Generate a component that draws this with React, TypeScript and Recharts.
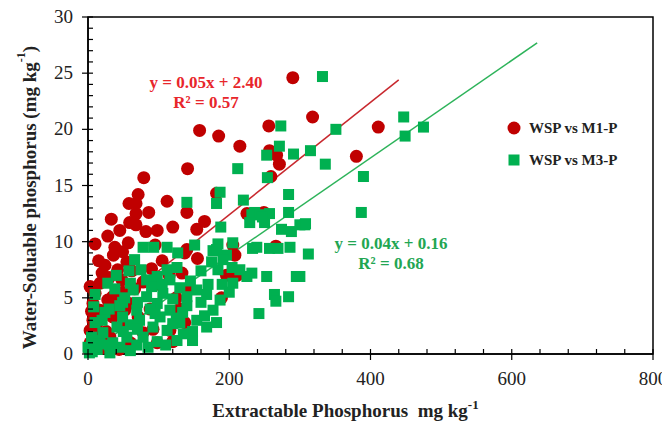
import React from "react";
import {
  ScatterChart,
  Scatter,
  XAxis,
  YAxis,
  ReferenceLine,
  ReferenceArea,
  Legend,
  Label,
  Customized,
} from "recharts";

// Tick values (majors labelled, minors drawn inside)
const xTicks = [0, 40, 80, 120, 160, 200, 240, 280, 320, 360, 400, 440, 480, 520, 560, 600, 640, 680, 720, 760, 800];
const yTicks = [0, 1, 2, 3, 4, 5, 6, 7, 8, 9, 10, 11, 12, 13, 14, 15, 16, 17, 18, 19, 20, 21, 22, 23, 24, 25, 26, 27, 28, 29, 30];
const xMajor = [0, 200, 400, 600, 800];
const yMajor = [0, 5, 10, 15, 20, 25, 30];

// WSP vs M1-P (extractable P, water-soluble P)
const m1pX = [
  158, 185, 215, 256, 290, 318, 411, 380, 257, 267, 271, 259, 249, 141, 79, 71, 58, 68, 112, 68,
  86, 140, 59, 68, 82, 98, 120, 154, 165, 182, 38, 57, 95, 49, 140, 155, 24, 17, 3, 10,
  48, 49, 35, 7, 17, 7, 3, 13, 21, 3, 189, 137, 116, 120, 205, 196, 35, 52, 59, 71,
  48, 31, 208, 211, 133, 141, 225, 266, 137, 98, 5, 12, 25, 28, 20, 30, 42, 15, 55, 36,
  62, 8, 18, 40, 66, 78, 88, 100, 26, 2, 10, 28, 45, 33, 90, 105, 115, 125, 130, 92,
  60, 44, 78,
];
const m1pY = [
  19.9, 19.4, 18.5, 20.3, 24.6, 21.1, 20.2, 17.6, 18.1, 17.7, 16.9, 15.8, 12.6, 16.5, 15.7, 14.2, 13.4, 13.4, 13.6, 12.5,
  12.6, 12.6, 11.7, 11.5, 10.9, 11.0, 11.3, 11.1, 11.8, 14.3, 9.5, 9.9, 9.7, 9.1, 9.3, 8.5, 7.9, 6.3, 6.0, 5.4,
  6.6, 5.5, 5.1, 4.5, 3.9, 3.0, 2.1, 1.5, 1.2, 1.0, 5.0, 2.8, 2.1, 1.1, 9.7, 7.0, 3.3, 3.9, 4.5, 3.3,
  2.4, 1.5, 8.8, 7.0, 7.2, 5.7, 12.5, 9.6, 9.0, 1.0, 3.8, 2.6, 3.5, 4.8, 7.2, 6.8, 7.5, 8.3, 8.2, 8.8,
  7.4, 1.8, 0.5, 4.2, 5.8, 6.4, 4.0, 6.2, 2.0, 0.3, 9.8, 10.5, 11.0, 12.0, 7.6, 8.3, 7.0, 5.0, 4.0, 2.2,
  1.0, 0.4, 1.9,
];

// WSP vs M3-P
const m3pX = [
  332, 273, 447, 449, 475, 351, 271, 253, 291, 315, 336, 390, 254, 284, 387, 284, 236, 257, 307, 312,
  300, 232, 243, 250, 274, 288, 300, 308, 239, 257, 269, 286, 232, 295, 264, 266, 284, 242, 212, 187,
  182, 220, 247, 229, 188, 184, 177, 196, 205, 140, 78, 93, 112, 127, 151, 66, 233, 182, 191, 204,
  184, 215, 225, 253, 205, 187, 177, 154, 182, 168, 148, 126, 148, 98, 69, 45, 31, 13, 6, 28,
  10, 116, 130, 140, 154, 168, 106, 83, 98, 116, 134, 69, 49, 73, 92, 112, 41, 21, 55, 78,
  35, 17, 0, 130, 102, 49, 64, 83, 98, 112, 126, 5, 10, 15, 24, 8, 38, 58, 45, 2,
  60, 20, 30, 52, 60, 70, 88, 90, 105, 120, 125, 140, 145, 160, 165, 85, 110, 60, 135, 120,
  50, 30, 70, 95, 75, 40, 160, 170, 190, 200, 175,
];
const m3pY = [
  24.7, 20.3, 21.1, 19.4, 20.2, 20.0, 18.5, 17.7, 17.8, 18.1, 16.9, 15.8, 15.7, 14.2, 12.6, 12.6, 12.6, 12.5, 11.5, 8.9,
  6.9, 12.4, 12.4, 11.7, 11.1, 10.9, 11.5, 11.6, 9.5, 9.4, 9.4, 9.5, 7.2, 6.9, 5.3, 4.7, 5.1, 3.6, 16.5, 14.4,
  13.4, 13.7, 12.2, 11.7, 11.3, 9.8, 9.2, 8.8, 9.9, 13.5, 9.5, 9.5, 9.5, 9.0, 9.7, 8.4, 9.4, 9.3, 8.4, 7.7,
  7.5, 7.5, 6.9, 6.9, 6.3, 4.8, 3.9, 3.0, 2.8, 2.4, 2.0, 1.2, 1.2, 1.1, 0.8, 0.6, 0.1, 0.4, 0.2, 6.3,
  5.3, 6.6, 5.9, 5.1, 5.7, 5.3, 5.4, 5.1, 4.5, 3.9, 3.7, 3.9, 3.3, 3.0, 2.4, 2.1, 2.4, 1.9, 1.5, 1.5,
  1.0, 1.2, 0.6, 2.8, 3.3, 4.6, 5.7, 6.6, 6.9, 7.5, 7.7, 1.5, 2.8, 0.9, 3.7, 4.2, 5.8, 7.4, 4.3, 0.1,
  2.6, 3.0, 4.0, 5.0, 6.3, 4.6, 4.0, 6.0, 6.2, 4.9, 3.2, 4.3, 6.5, 4.6, 3.4, 0.6, 0.8, 0.3, 1.8, 2.7,
  2.0, 0.8, 2.2, 3.6, 7.5, 7.0, 7.4, 6.2, 6.2, 5.5, 8.2,
];

// Trend line end points
const m1pTrend = [
  { x: 0, y: 2.4 },
  { x: 440, y: 24.4 },
];
const m3pTrend = [
  { x: 0, y: 0.1 },
  { x: 636, y: 27.7 },
];

const m1pData = m1pX.map((x, i) => ({ x, y: m1pY[i] }));
const m3pData = m3pX.map((x, i) => ({ x, y: m3pY[i] }));

const SERIF = "'Liberation Serif', 'Times New Roman', serif";
const DARK_RED = "#C00000";
const GREEN = "#00B050";

function RedDot(props: any) {
  return <circle cx={props.cx} cy={props.cy} r={6.5} fill={DARK_RED} />;
}

function GreenSquare(props: any) {
  return <rect x={props.cx - 5.5} y={props.cy - 5.5} width={11} height={11} fill={GREEN} />;
}

function XTick(props: any) {
  const { x, y, payload } = props;
  const major = xMajor.includes(payload.value);
  return (
    <g>
      <line x1={x} x2={x} y1={y - 5} y2={major ? y + 6 : y} stroke="#000" strokeWidth={1.2} />
      {major && (
        <text x={x} y={y + 31} textAnchor="middle" fontSize={19} fontFamily={SERIF} fill="#222">
          {payload.value}
        </text>
      )}
    </g>
  );
}

function YTick(props: any) {
  const { x, y, payload } = props;
  const major = yMajor.includes(payload.value);
  return (
    <g>
      <line x1={major ? x - 6 : x} x2={x + 5} y1={y} y2={y} stroke="#000" strokeWidth={1.2} />
      {major && (
        <text x={x - 15} y={y + 6} textAnchor="end" fontSize={19} fontFamily={SERIF} fill="#222">
          {payload.value}
        </text>
      )}
    </g>
  );
}

function XTitle(props: any) {
  const vb = props.viewBox;
  const cx = vb.x + vb.width / 2 - 25;
  return (
    <text x={cx} y={vb.y + 63} textAnchor="middle" fontSize={19} fontWeight="bold" fontFamily={SERIF} fill="#222">
      Extractable Phosphorus{"\u00a0\u00a0"}mg kg
      <tspan dy={-8} fontSize={13}>-1</tspan>
    </text>
  );
}

function YTitle(props: any) {
  const vb = props.viewBox;
  const cx = 21;
  const cy = vb.y + vb.height / 2 + 12;
  return (
    <text
      x={cx}
      y={cy}
      transform={`rotate(-90, ${cx}, ${cy})`}
      textAnchor="middle"
      dominantBaseline="central"
      fontSize={19}
      fontWeight="bold"
      fontFamily={SERIF}
      fill="#222"
    >
      Water-Soluable phosphorus (mg kg
      <tspan dy={-8} fontSize={12}>-1</tspan>
      <tspan dy={8}>)</tspan>
    </text>
  );
}

function Equations() {
  return (
    <g fontFamily={SERIF} fontWeight="bold" fontSize={17} textAnchor="middle">
      <text x={198} y={80} fill="#E8262B">y = 0.05x + 2.40</text>
      <text x={198} y={100} fill="#E8262B">R² = 0.57</text>
      <text x={383} y={241} fill="#22A652">y = 0.04x + 0.16</text>
      <text x={383} y={261} fill="#22A652">R² = 0.68</text>
    </g>
  );
}

function LegendBox() {
  const row: React.CSSProperties = { display: "flex", alignItems: "center", height: 32 };
  const txt: React.CSSProperties = { fontFamily: SERIF, fontWeight: "bold", fontSize: 15, color: "#222", marginLeft: 8 };
  return (
    <div>
      <div style={row}>
        <svg width={14} height={14}>
          <circle cx={7} cy={7} r={6.5} fill={DARK_RED} />
        </svg>
        <span style={txt}>WSP vs M1-P</span>
      </div>
      <div style={row}>
        <svg width={14} height={14}>
          <rect x={1.5} y={1.5} width={11} height={11} fill={GREEN} />
        </svg>
        <span style={txt}>WSP vs M3-P</span>
      </div>
    </div>
  );
}

export default function App() {
  return (
    <div style={{ width: 662, height: 415, position: "relative" }}>
      <style>{".recharts-surface{overflow:visible}"}</style>
      <ScatterChart width={662} height={415} margin={{ top: 9, right: 17, bottom: 0, left: 0 }}>
        <XAxis
          type="number"
          dataKey="x"
          domain={[0, 800]}
          ticks={xTicks}
          interval={0}
          height={69}
          tickSize={0}
          tickMargin={0}
          tickLine={false}
          axisLine={{ stroke: "#000", strokeWidth: 1.5 }}
          tick={<XTick />}
        >
          <Label content={<XTitle />} />
        </XAxis>
        <YAxis
          type="number"
          dataKey="y"
          domain={[0, 30]}
          ticks={yTicks}
          interval={0}
          width={80}
          tickSize={0}
          tickMargin={0}
          tickLine={false}
          axisLine={{ stroke: "#000", strokeWidth: 1.5 }}
          tick={<YTick />}
        >
          <Label content={<YTitle />} />
        </YAxis>
        <ReferenceArea x1={0} x2={800} y1={0} y2={30} fill="none" stroke="#000" strokeWidth={1.5} />
        <Scatter name="WSP vs M1-P" data={m1pData} shape={<RedDot />} isAnimationActive={false} />
        <Scatter name="WSP vs M3-P" data={m3pData} shape={<GreenSquare />} isAnimationActive={false} />
        <ReferenceLine segment={m1pTrend} stroke="#C8282E" strokeWidth={1.5} />
        <ReferenceLine segment={m3pTrend} stroke="#2DB35A" strokeWidth={1.5} />
        <Customized component={<Equations />} />
        <Legend
          layout="vertical"
          align="center"
          verticalAlign="middle"
          content={<LegendBox />}
          wrapperStyle={{ left: 499, top: 104, width: 150, height: 70 }}
        />
      </ScatterChart>
    </div>
  );
}
